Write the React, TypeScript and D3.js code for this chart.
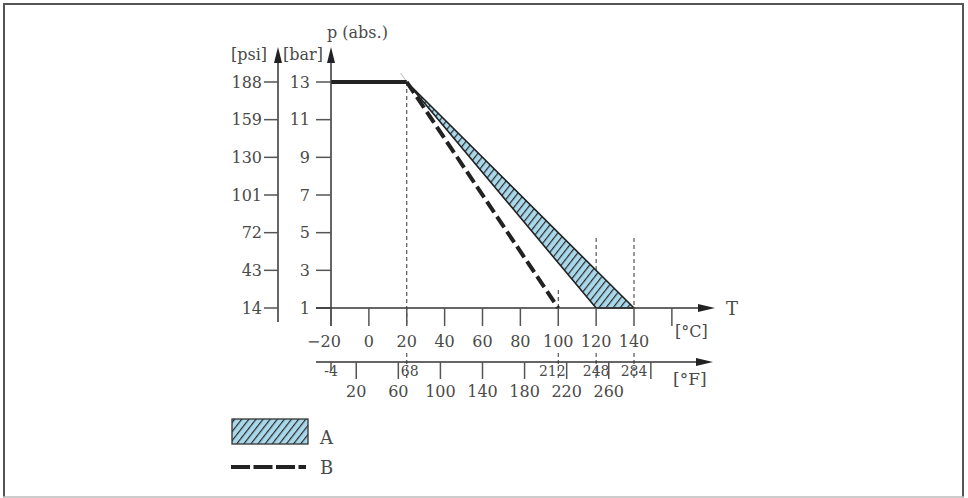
import React from "react";
import * as d3 from "d3";

const celsiusTicks = [-20, 0, 20, 40, 60, 80, 100, 120, 140];
const celsiusExtraTick = 160;
const barTicks = [1, 3, 5, 7, 9, 11, 13];
const psiLabels = [14, 43, 72, 101, 130, 159, 188];
const fahrenheitMajor = [20, 60, 100, 140, 180, 220, 260, 300];
const fahrenheitMajorLabels = [20, 60, 100, 140, 180, 220, 260];
const fahrenheitMarks = [-4, 68, 212, 248, 284];
const markCelsius = [20, 100, 120, 140];

const flatLine = [
  { t: -20, p: 13 },
  { t: 20, p: 13 },
];
const limitAUpper = [
  { t: 20, p: 13 },
  { t: 140, p: 1 },
];
const limitALower = [
  { t: 20, p: 13 },
  { t: 120, p: 1 },
];
const limitB = [
  { t: 20, p: 13 },
  { t: 100, p: 1 },
];

const FONT = "DejaVu Serif";
const TXT = "#4a4a4a";

export default function App() {
  const x = d3.scaleLinear().domain([-20, 140]).range([331, 634]);
  const y = d3.scaleLinear().domain([1, 13]).range([308, 82]);
  const xF = (f: number) => x((f - 32) / 1.8);
  const line = d3
    .line<{ t: number; p: number }>()
    .x((d) => x(d.t))
    .y((d) => y(d.p));

  const bandPts = [...limitALower, ...limitAUpper.slice().reverse()];
  const band = line(bandPts) + "Z";

  const yBase = y(1);
  const yF = 362;
  const psiX = 278;
  const barX = x(-20);

  const arrowUp = (cx: number, tip: number) =>
    `M${cx},${tip} L${cx - 4},${tip + 16} L${cx + 4},${tip + 16} Z`;
  const arrowRight = (tip: number, cy: number) =>
    `M${tip},${cy} L${tip - 17},${cy - 4} L${tip - 17},${cy + 4} Z`;

  const vertex = { x: x(20), y: y(13) };
  const bEnd = { x: x(100), y: y(1) };
  const ext = 9 / (bEnd.y - vertex.y);

  return (
    <svg
      width={968}
      height={498}
      style={{ position: "absolute", left: 0, top: 0 }}
      fontFamily={FONT}
    >
      <defs>
        <pattern
          id="hatch"
          patternUnits="userSpaceOnUse"
          width={5.6}
          height={5.6}
          patternTransform="rotate(38)"
        >
          <rect width={5.6} height={5.6} fill="#a9d8ea" />
          <line x1={0.6} y1={0} x2={0.6} y2={5.6} stroke="#2a2a2a" strokeWidth={1.2} />
        </pattern>
      </defs>
      <rect x={0} y={0} width={968} height={498} fill="#fff" />
      {/* frame */}
      <line x1={4} y1={4} x2={963} y2={4} stroke="#555" strokeWidth={2} />
      <line x1={4} y1={3} x2={4} y2={497} stroke="#555" strokeWidth={2} />
      <line x1={963} y1={3} x2={963} y2={497} stroke="#555" strokeWidth={2} />
      <line x1={3} y1={497} x2={964} y2={497} stroke="#bbb" strokeWidth={1.5} />

      {/* dashed guide lines */}
      <line x1={x(20)} y1={y(13)} x2={x(20)} y2={yBase + 18} stroke="#333" strokeWidth={1} strokeDasharray="4 3" />
      <line x1={x(100)} y1={290} x2={x(100)} y2={yBase} stroke="#333" strokeWidth={1} strokeDasharray="4 3" />
      <line x1={x(120)} y1={238} x2={x(120)} y2={yBase} stroke="#333" strokeWidth={1} strokeDasharray="4 3" />
      <line x1={x(140)} y1={238} x2={x(140)} y2={yBase} stroke="#333" strokeWidth={1} strokeDasharray="4 3" />
      {markCelsius.map((c) => (
        <line key={"dm" + c} x1={x(c)} y1={353} x2={x(c)} y2={379} stroke="#333" strokeWidth={1} strokeDasharray="4 3" />
      ))}

      {/* band A */}
      <path d={band} fill="url(#hatch)" stroke="#222" strokeWidth={1.6} strokeLinejoin="round" />
      {/* faint extension */}
      <line
        x1={vertex.x}
        y1={vertex.y}
        x2={vertex.x - (bEnd.x - vertex.x) * ext}
        y2={vertex.y - 9}
        stroke="#bbb"
        strokeWidth={1}
      />
      {/* B dashed */}
      <path d={line(limitB) || ""} fill="none" stroke="#222" strokeWidth={4} strokeDasharray="13 5" />
      {/* flat limit */}
      <path d={line(flatLine) || ""} fill="none" stroke="#222" strokeWidth={4} strokeLinecap="butt" />

      {/* psi axis */}
      <line x1={psiX} y1={322} x2={psiX} y2={60} stroke="#333" strokeWidth={1.5} />
      <path d={arrowUp(psiX, 47)} fill="#222" />
      {barTicks.map((b, i) => (
        <g key={"psi" + b}>
          <line x1={psiX - 14} y1={y(b)} x2={psiX} y2={y(b)} stroke="#555" strokeWidth={1.5} />
          <text x={262} y={y(b)} dy="0.36em" textAnchor="end" fontSize={16} fill={TXT}>
            {psiLabels[i]}
          </text>
        </g>
      ))}
      <text x={231} y={60} fontSize={16} fill={TXT}>[psi]</text>

      {/* bar axis */}
      <line x1={barX} y1={yBase + 18} x2={barX} y2={60} stroke="#333" strokeWidth={1.5} />
      <path d={arrowUp(barX, 47)} fill="#222" />
      {barTicks.map((b) => (
        <g key={"bar" + b}>
          <line x1={barX - 15} y1={y(b)} x2={barX} y2={y(b)} stroke="#555" strokeWidth={1.5} />
          <text x={310} y={y(b)} dy="0.36em" textAnchor="end" fontSize={16} fill={TXT}>
            {b}
          </text>
        </g>
      ))}
      <text x={283} y={60} fontSize={16} fill={TXT}>[bar]</text>
      <text x={327} y={38} fontSize={16} fill={TXT}>p (abs.)</text>

      {/* Celsius axis */}
      <line x1={316} y1={yBase} x2={702} y2={yBase} stroke="#333" strokeWidth={1.5} />
      <path d={arrowRight(715, yBase)} fill="#222" />
      {[...celsiusTicks, celsiusExtraTick].map((c) => (
        <line key={"ct" + c} x1={x(c)} y1={yBase} x2={x(c)} y2={yBase + 18} stroke="#555" strokeWidth={1.5} />
      ))}
      {celsiusTicks.map((c) => (
        <text key={"cl" + c} x={x(c) + (c < 0 ? -7 : 0)} y={347} textAnchor="middle" fontSize={16} fill={TXT}>
          {c < 0 ? "\u2212" + Math.abs(c) : c}
        </text>
      ))}
      <text x={675} y={337} fontSize={16} fill={TXT}>[°C]</text>
      <text x={726} y={315} fontSize={18} fill={TXT}>T</text>

      {/* Fahrenheit axis */}
      <line x1={316} y1={yF} x2={700} y2={yF} stroke="#333" strokeWidth={1.5} />
      <path d={arrowRight(713, yF)} fill="#222" />
      {fahrenheitMajor.map((f) => (
        <line key={"ft" + f} x1={xF(f)} y1={yF} x2={xF(f)} y2={yF + 17} stroke="#555" strokeWidth={1.5} />
      ))}
      <line x1={xF(-4)} y1={yF} x2={xF(-4)} y2={yF + 9} stroke="#555" strokeWidth={1.5} />
      {fahrenheitMajorLabels.map((f) => (
        <text key={"fl" + f} x={xF(f)} y={397} textAnchor="middle" fontSize={16} fill={TXT}>
          {f}
        </text>
      ))}
      {fahrenheitMarks.map((f) => (
        <text key={"fm" + f} x={xF(f) + (f === 68 ? 3 : f === 212 ? -6 : 0)} y={376} textAnchor="middle" fontSize={14} fill={TXT}>
          {f}
        </text>
      ))}
      <text x={673} y={385} fontSize={17} fill={TXT}>[°F]</text>

      {/* legend */}
      <rect x={232} y={419} width={76} height={25} fill="url(#hatch)" stroke="#333" strokeWidth={1.3} />
      <text x={320} y={444} fontSize={18} fill={TXT}>A</text>
      <line x1={231} y1={467} x2={306} y2={467} stroke="#222" strokeWidth={4} strokeDasharray="19 3.5" />
      <text x={320} y={474} fontSize={18} fill={TXT}>B</text>
    </svg>
  );
}
